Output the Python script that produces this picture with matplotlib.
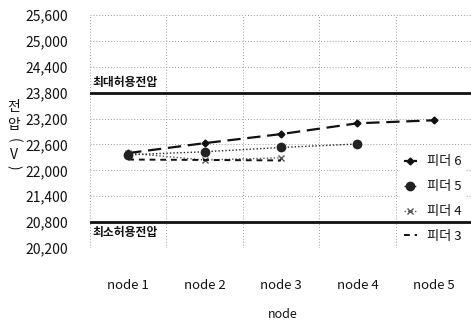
import matplotlib
matplotlib.use("Agg")
import matplotlib.pyplot as plt
from matplotlib.ticker import FuncFormatter

plt.rcParams['font.family'] = ['Noto Sans CJK KR', 'DejaVu Sans']

categories = ["node 1", "node 2", "node 3", "node 4", "node 5"]
feeder6 = [22400, 22630, 22840, 23090, 23160]
feeder5 = [22360, 22430, 22530, 22610]
feeder4 = [22400, 22240, 22290]
feeder3 = [22250, 22240, 22230]
yticks = [20200, 20800, 21400, 22000, 22600, 23200, 23800, 24400, 25000, 25600]
vmax = 23800
vmin = 20800

fig = plt.figure(figsize=(4.71, 3.24), dpi=100)
W, H = 471, 324
ax = fig.add_axes([90 / W, 1 - 248 / H, (472 - 90) / W, (248 - 15) / H])

for s in ax.spines.values():
    s.set_visible(False)

ax.set_xlim(-0.5, 4.5)
ax.set_ylim(20200, 25600)
ax.set_yticks(yticks)
ax.yaxis.set_major_formatter(FuncFormatter(lambda v, p: f"{int(v):,}"))
ax.set_xticks(range(len(categories)))
ax.set_xticklabels(categories)
ax.tick_params(axis='both', length=0, colors='#111111')
ax.tick_params(axis='y', labelsize=10, pad=16)
ax.tick_params(axis='x', labelsize=9.5, pad=22)

grid_kw = dict(color='#9a9a9a', lw=0.7, ls=(0, (1, 2)))
for v in yticks:
    ax.axhline(v, zorder=0, **grid_kw)
for b in [-0.5, 0.5, 1.5, 2.5]:
    ax.axvline(b, zorder=0, **grid_kw)
ax.axvline(3.5, zorder=2, **grid_kw)

ax.axhline(vmax, color='#111111', lw=2.0, zorder=7)
ax.axhline(vmin, color='#111111', lw=2.0, zorder=7)
ax.text(-0.47, vmax + 90, "최대허용전압", fontsize=8.5, fontweight='bold', va='bottom', ha='left', color='#111111')
ax.text(-0.47, vmin - 90, "최소허용전압", fontsize=8.5, fontweight='bold', va='top', ha='left', color='#111111')

ax.plot(range(len(feeder6)), feeder6, color='#111111', lw=1.6, ls=(0, (6, 3)),
        marker='D', ms=3.5, label='피더 6', zorder=4)
ax.plot(range(len(feeder5)), feeder5, color='#222222', lw=1.0, ls=(0, (1, 1.5)),
        marker='o', ms=6, label='피더 5', zorder=4)
ax.plot(range(len(feeder4)), feeder4, color='#555555', lw=1.0, ls=(0, (1, 1.5)),
        marker='x', ms=4, label='피더 4', zorder=3)
ax.plot(range(len(feeder3)), feeder3, color='#111111', lw=1.4, ls=(0, (3, 2.5)),
        label='피더 3', zorder=3)

leg = ax.legend(loc='lower right',
                frameon=True, fancybox=False, edgecolor='none', facecolor='white', framealpha=1,
                fontsize=9.5, handlelength=1.0, handletextpad=0.8, labelspacing=0.9,
                borderpad=0.3, borderaxespad=0.0)
leg.set_zorder(1.5)
for t in leg.get_texts():
    t.set_color('#111111')
leg.set_bbox_to_anchor((466 / W, 1 - 247 / H), transform=fig.transFigure)

ax.set_xlabel("node", fontsize=9, color='#111111')
ax.xaxis.set_label_coords(283 / W, 1 - 315 / H, transform=fig.transFigure)
ax.xaxis.label.set_va('center')

ylab = [("전", 0, 107), ("압", 0, 125), ("(", -90, 140), ("V", 0, 155), (")", -90, 167)]
for ch, rot, yy in ylab:
    fig.text(14 / W, 1 - yy / H, ch, fontsize=10, ha='center', va='center',
             rotation=rot, color='#111111')

fig.savefig("out.png", dpi=100)
